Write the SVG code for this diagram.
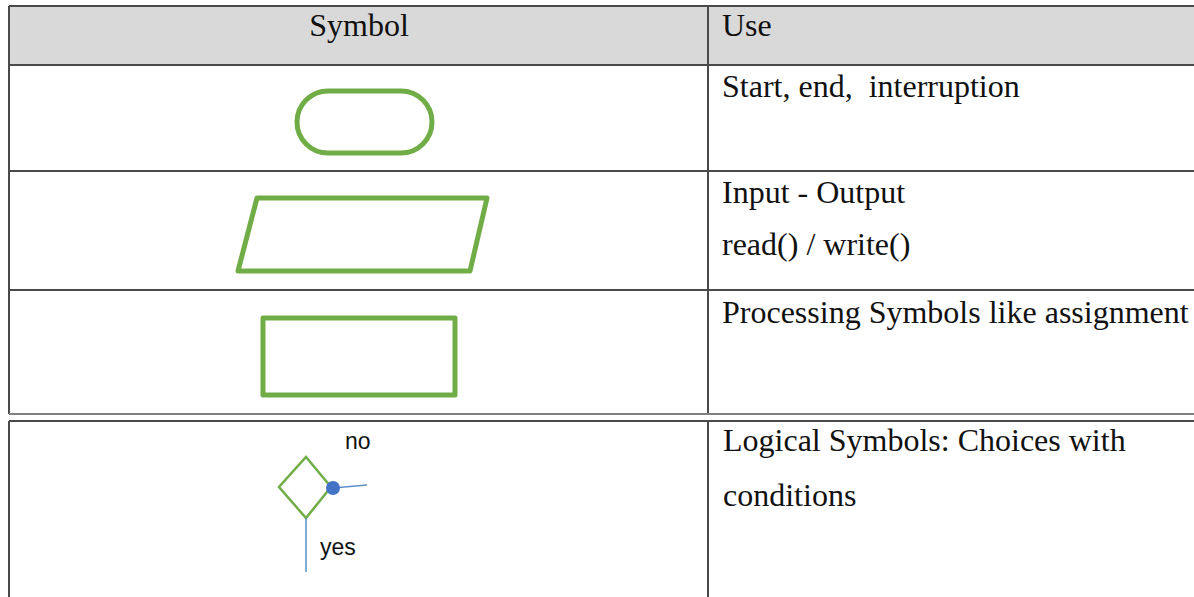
<svg xmlns="http://www.w3.org/2000/svg" width="1194" height="597" viewBox="0 0 1194 597">
  <style>
    .grid { stroke: #4a4a4a; stroke-width: 2; fill: none; }
    .head { fill: #d9d9d9; }
    .sym { fill: none; stroke: #70ad47; stroke-width: 5; stroke-linejoin: round; }
    .txt { font-family: "Liberation Serif", "Times New Roman", serif; font-size: 32px; fill: #111; }
    .lbl { font-family: "Liberation Sans", Arial, sans-serif; font-size: 23px; fill: #111; }
    .flow { stroke: #5b8fc9; stroke-width: 1.5; fill: none; }
  </style>

  <rect width="1194" height="597" fill="#ffffff"/>

  <!-- upper table: header + three rows -->
  <g id="table-upper">
    <rect class="head" x="9" y="6" width="1185" height="59"/>
    <path class="grid" d="M9,6 H1194 M9,65 H1194 M9,171 H1194 M9,290 H1194 M9,6 V414 M708,6 V414"/>
    <path d="M9,414 H1194" stroke="#808080" stroke-width="2"/>
  </g>

  <!-- lower table: decision row -->
  <g id="table-lower">
    <path class="grid" d="M9,421 H1194 M9,421 V597 M708,421 V597"/>
  </g>

  <!-- header -->
  <g id="header">
    <text class="txt" x="359" y="36" text-anchor="middle">Symbol</text>
    <text class="txt" x="722" y="36">Use</text>
  </g>

  <!-- terminator -->
  <g id="terminator">
    <rect class="sym" x="297" y="91" width="135" height="62" rx="31" ry="31"/>
    <text class="txt" x="722" y="97" xml:space="preserve">Start, end,  interruption</text>
  </g>

  <!-- input / output -->
  <g id="io">
    <polygon class="sym" points="257,198 487,198 470,271 238,271"/>
    <text class="txt" x="722" y="203">Input - Output</text>
    <text class="txt" x="722" y="255">read() / write()</text>
  </g>

  <!-- process -->
  <g id="process">
    <rect class="sym" x="263" y="318" width="192" height="77"/>
    <text class="txt" x="722" y="323">Processing Symbols like assignment</text>
  </g>

  <!-- decision -->
  <g id="decision">
    <polygon points="306,457 331,487 306,518 279,487" fill="none" stroke="#70ad47" stroke-width="2.5"/>
    <text class="lbl" x="345" y="449">no</text>
    <text class="lbl" x="320" y="555">yes</text>
    <text class="txt" x="723" y="451">Logical Symbols: Choices with</text>
    <text class="txt" x="723" y="506">conditions</text>
  </g>

  <!-- decision branches -->
  <g id="connectors">
    <line class="flow" x1="333" y1="488" x2="367" y2="485"/>
    <line class="flow" x1="306" y1="518" x2="306" y2="572"/>
    <circle cx="333" cy="488" r="7" fill="#4472c4"/>
  </g>
</svg>
